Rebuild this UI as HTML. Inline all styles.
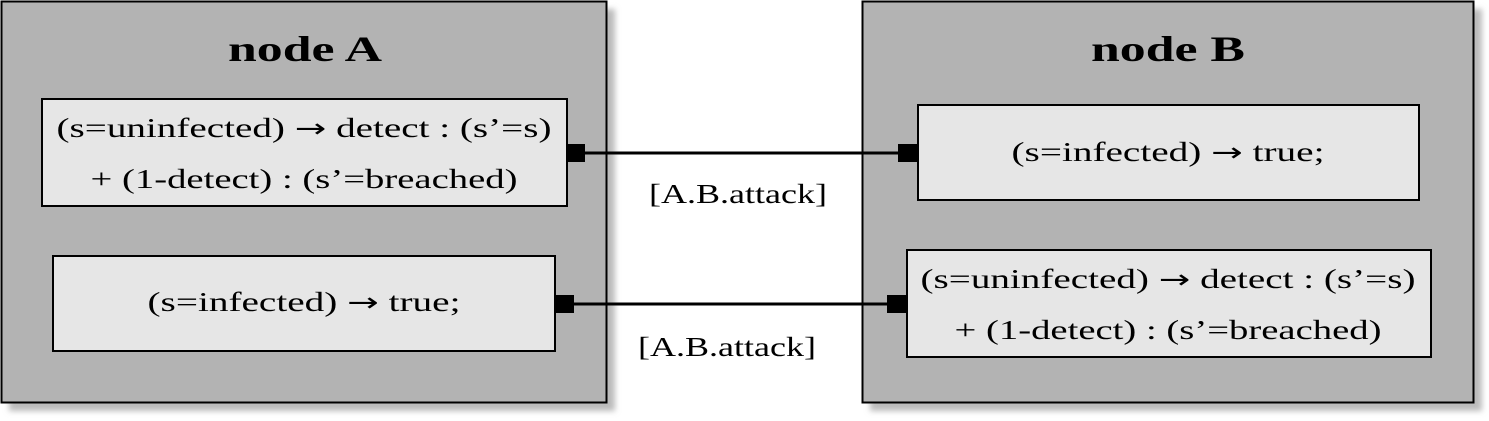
<!DOCTYPE html>
<html><head><meta charset="utf-8"><style>
html,body{margin:0;padding:0;background:#fff;}
svg{display:block;}
text{font-family:"Liberation Serif","DejaVu Serif",serif;fill:#000;}
.ar{font-family:"DejaVu Sans",sans-serif;font-size:26px;}
</style></head><body>
<svg width="1489" height="421" viewBox="0 0 1489 421" xmlns="http://www.w3.org/2000/svg">
<defs>
<filter id="sh" x="-5%" y="-5%" width="115%" height="115%"><feGaussianBlur stdDeviation="3"/></filter>
</defs>
<rect x="9" y="9" width="606" height="402" fill="#bbb" filter="url(#sh)"/>
<rect x="870" y="9" width="612" height="402" fill="#bbb" filter="url(#sh)"/>
<rect x="1.5" y="1.5" width="605" height="401" fill="#b3b3b3" stroke="#000" stroke-width="2"/>
<text x="305" y="61" font-size="36" font-weight="bold" text-anchor="middle" textLength="154" lengthAdjust="spacingAndGlyphs">node A</text>
<rect x="42" y="99" width="525" height="107" fill="#e6e6e6" stroke="#000" stroke-width="2"/>
<text x="304" y="137" font-size="27" text-anchor="middle" textLength="495" lengthAdjust="spacingAndGlyphs">(s=uninfected) <tspan class="ar">→</tspan> detect : (s’=s)</text>
<text x="304" y="188" font-size="27" text-anchor="middle" textLength="427" lengthAdjust="spacingAndGlyphs">+ (1-detect) : (s’=breached)</text>
<rect x="53" y="256" width="502" height="95" fill="#e6e6e6" stroke="#000" stroke-width="2"/>
<text x="304" y="311" font-size="27" text-anchor="middle" textLength="313" lengthAdjust="spacingAndGlyphs">(s=infected) <tspan class="ar">→</tspan> true;</text>
<rect x="862.5" y="1.5" width="611" height="401" fill="#b3b3b3" stroke="#000" stroke-width="2"/>
<text x="1168" y="61" font-size="36" font-weight="bold" text-anchor="middle" textLength="154" lengthAdjust="spacingAndGlyphs">node B</text>
<rect x="918" y="105" width="501" height="95" fill="#e6e6e6" stroke="#000" stroke-width="2"/>
<text x="1168" y="161" font-size="27" text-anchor="middle" textLength="313" lengthAdjust="spacingAndGlyphs">(s=infected) <tspan class="ar">→</tspan> true;</text>
<rect x="907" y="250" width="524" height="107" fill="#e6e6e6" stroke="#000" stroke-width="2"/>
<text x="1168" y="288" font-size="27" text-anchor="middle" textLength="495" lengthAdjust="spacingAndGlyphs">(s=uninfected) <tspan class="ar">→</tspan> detect : (s’=s)</text>
<text x="1168" y="339" font-size="27" text-anchor="middle" textLength="427" lengthAdjust="spacingAndGlyphs">+ (1-detect) : (s’=breached)</text>
<line x1="585" y1="153" x2="898" y2="153" stroke="#000" stroke-width="3"/>
<line x1="574" y1="304" x2="887" y2="304" stroke="#000" stroke-width="3"/>
<rect x="567" y="144" width="18" height="18" fill="#000"/>
<rect x="898" y="144" width="20" height="18" fill="#000"/>
<rect x="555" y="295" width="19" height="18" fill="#000"/>
<rect x="887" y="295" width="20" height="18" fill="#000"/>
<text x="738" y="203" font-size="27" text-anchor="middle" textLength="178" lengthAdjust="spacingAndGlyphs">[A.B.attack]</text>
<text x="727" y="356" font-size="27" text-anchor="middle" textLength="178" lengthAdjust="spacingAndGlyphs">[A.B.attack]</text>
</svg>
</body></html>
